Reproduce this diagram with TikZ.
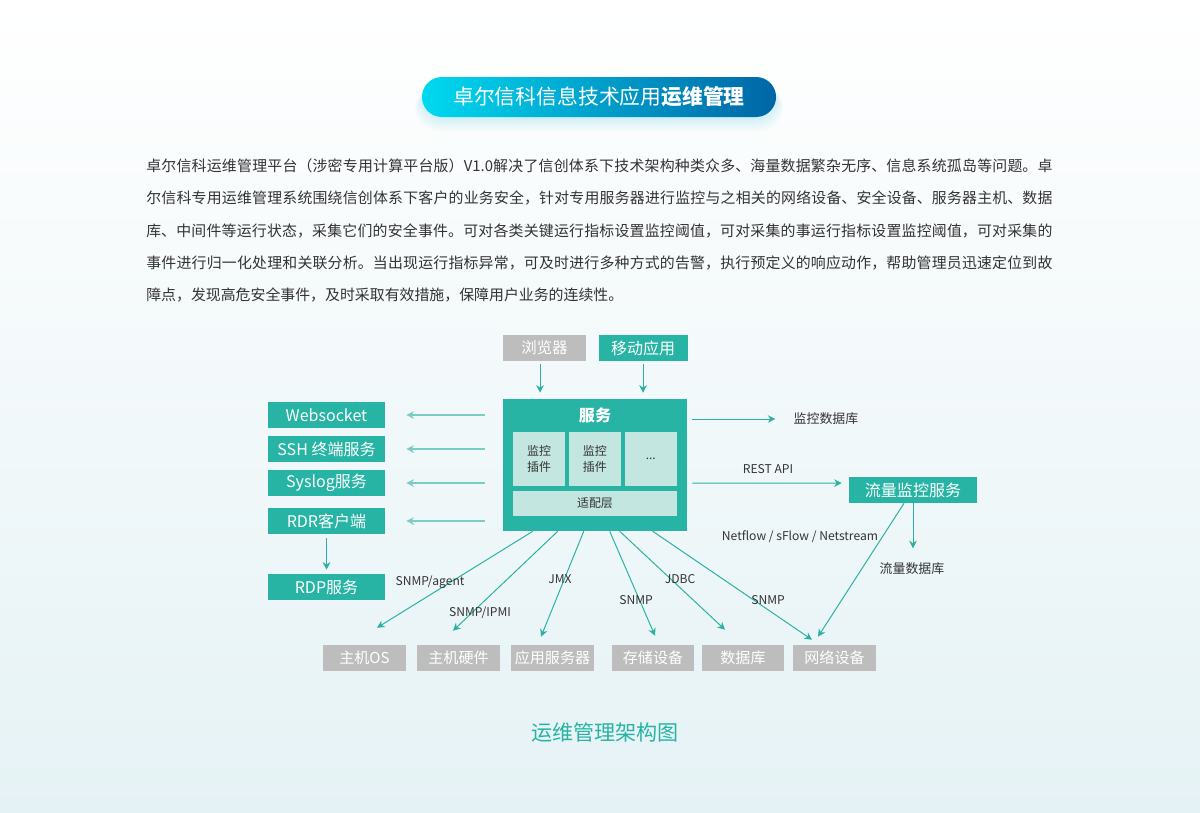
\documentclass[tikz,border=0pt]{standalone}
\usepackage{fontspec}
\setmainfont{Noto Sans CJK SC}
\usetikzlibrary{arrows.meta,positioning,calc}
\XeTeXlinebreaklocale "zh"
\XeTeXlinebreakskip=0pt plus 1pt
\definecolor{opsteal}{HTML}{27B4A4}
\definecolor{opslight}{HTML}{C3E6E0}
\definecolor{opsgray}{HTML}{BDBDBD}
\definecolor{arrowteal}{HTML}{2AB1A3}
\definecolor{arrowpale}{HTML}{7ACDC3}
\definecolor{bodytext}{HTML}{333333}
\definecolor{bannerleft}{HTML}{00D9F0}
\definecolor{bannerright}{HTML}{0066A6}
\definecolor{bgtint}{HTML}{E5F2F5}

\begin{document}
\begin{tikzpicture}[
  x=0.025cm, y=-0.025cm,
  tealbox/.style={fill=opsteal, text=white, inner sep=0pt, minimum height=6.5mm, font=\fontsize{11.4pt}{13pt}\selectfont},
  graybox/.style={fill=opsgray, text=white, inner sep=0pt, minimum height=6.5mm, minimum width=20.6mm, font=\fontsize{10.7pt}{12pt}\selectfont},
  plugbox/.style={fill=opslight, text=bodytext, inner sep=0pt, align=center, minimum width=13.1mm, minimum height=13.5mm, font=\fontsize{8.5pt}{11.4pt}\selectfont},
  lbl/.style={text=bodytext, inner sep=0pt, font=\fontsize{8.6pt}{10pt}\selectfont},
  arr/.style={-{Stealth[length=1.9mm, width=1.9mm]}, line width=0.7pt, draw=arrowteal},
  palearr/.style={arr, draw=arrowpale, line width=1pt}
]
% background and frame
\fill[top color=white, bottom color=bgtint] (0,0) rectangle (1200,812);
\useasboundingbox (0,0) rectangle (1200,812);

% title banner
\foreach \g in {2,4,...,14}
  \fill[bannerleft!60!bannerright, opacity=0.025, rounded corners=6mm] (422-\g/2,84) rectangle (776+\g/2,117+\g);
\node[rounded corners=5mm, left color=bannerleft, right color=bannerright, minimum width=88.5mm, minimum height=10mm,
  text=white, inner sep=0pt, font=\fontsize{14.8pt}{16pt}\selectfont] (banner) at (599,97) {卓尔信科信息技术应用\textbf{运维管理}};

% intro text
\node[anchor=north west, inner sep=0pt, text width=226.5mm, align=justify, text=bodytext,
  font={\fontsize{10.6pt}{23.1pt}\selectfont}] (intro) at (146,158) {卓尔信科运维管理平台（涉密专用计算平台版）V1.0解决了信创体系下技术架构种类众多、海量数据繁杂无序、信息系统孤岛等问题。卓\linebreak
尔信科专用运维管理系统围绕信创体系下客户的业务安全，针对专用服务器进行监控与之相关的网络设备、安全设备、服务器主机、数据\linebreak
库、中间件等运行状态，采集它们的安全事件。可对各类关键运行指标设置监控阈值，可对采集的事运行指标设置监控阈值，可对采集的\linebreak
事件进行归一化处理和关联分析。当出现运行指标异常，可及时进行多种方式的告警，执行预定义的响应动作，帮助管理员迅速定位到故\linebreak
障点，发现高危安全事件，及时采取有效措施，保障用户业务的连续性。};

% clients
\node[graybox, minimum width=20.75mm, font=\fontsize{11pt}{12pt}\selectfont] (browser) at (544.5,348) {浏览器};
\node[tealbox, minimum width=22.25mm, right=3mm of browser] (mobile) {移动应用};

% service block
\node[fill=opsteal, minimum width=46mm, minimum height=33mm, inner sep=0pt] (svc) at (595,465) {};
\node[text=white, inner sep=0pt, font=\bfseries\fontsize{11.4pt}{13pt}\selectfont] (svctitle) at (595,415) {服务};
\node[plugbox, minimum width=13mm] (plugA) at (539,459) {监控\\插件};
\node[plugbox, right=0.75mm of plugA] (plugB) {监控\\插件};
\node[plugbox, right=0.75mm of plugB] (plugC) {...};
\node[fill=opslight, text=bodytext, inner sep=0pt, minimum width=41mm, minimum height=6.25mm,
  font=\fontsize{8.5pt}{10pt}\selectfont] (adapter) at (595,503.5) {适配层};

% left side services
\node[tealbox, minimum width=29.25mm] (ws) at (326.5,415) {Websocket};
\node[tealbox, minimum width=29.25mm] (ssh) at (326.5,449) {SSH 终端服务};
\node[tealbox, minimum width=29.25mm] (syslog) at (326.5,483) {Syslog服务};
\node[tealbox, minimum width=29.25mm] (rdr) at (326.5,521) {RDR客户端};
\node[tealbox, minimum width=29.25mm] (rdp) at (326.5,587) {RDP服务};

% right side
\node[lbl, font=\fontsize{9.2pt}{10pt}\selectfont] (mondb) at (826,419) {监控数据库};
\node[tealbox, minimum width=32mm] (flow) at (913,490) {流量监控服务};
\node[lbl, font=\fontsize{9.2pt}{10pt}\selectfont] (flowdb) at (912,569) {流量数据库};

% monitored targets
\node[graybox] (os) at (364.5,658) {主机OS};
\node[graybox] (hw) at (458.5,658) {主机硬件};
\node[graybox] (app) at (552.5,658) {应用服务器};
\node[graybox] (stor) at (653,658) {存储设备};
\node[graybox] (db) at (743,658) {数据库};
\node[graybox] (net) at (834.5,658) {网络设备};

% connectors
\draw[arr, shorten <=0.75mm, shorten >=1.5mm] ([xshift=-1.1mm]browser.south) -- ([xshift=-1.1mm]browser.south |- svc.north);
\draw[arr, shorten <=0.75mm, shorten >=1.5mm] (mobile.south) -- (mobile.south |- svc.north);
\foreach \dst in {ws,ssh,syslog,rdr}
  \draw[palearr, shorten <=4.5mm, shorten >=5.25mm] (svc.west |- \dst.east) -- (\dst.east);
\draw[arr, shorten <=1mm, shorten >=1mm] (rdr.south) -- (rdp.north);
\draw[arr, shorten <=1.25mm, shorten >=4.5mm] (svc.east |- mondb.west) -- (mondb.west);
\draw[arr, shorten <=1.25mm, shorten >=1.75mm] (svc.east |- 0,483) -- node[lbl, above=2.2mm] (rest) {REST API} ([yshift=0.175cm]flow.west);
\draw[arr, shorten >=3.6mm] (flow.south) -- (flow.south |- flowdb.north);
\draw[arr] ([xshift=-2.25mm]flow.south) -- ([shift={(-16.5,-8)}]net.north);

\draw[arr] ([xshift=7.5mm]svc.south west) -- ([shift={(12.5,-17)}]os.north);
\draw[arr] ([xshift=13.75mm]svc.south west) -- ([shift={(-5.5,-14)}]hw.north);
\draw[arr] ([xshift=20.25mm]svc.south west) -- ([shift={(-11.5,-8)}]app.north);
\draw[arr] ([xshift=26.75mm]svc.south west) -- ([shift={(2,-9)}]stor.north);
\draw[arr] ([xshift=29.25mm]svc.south west) -- ([shift={(-18,-15)}]db.north);
\draw[arr] ([xshift=37.5mm]svc.south west) -- ([shift={(-22.5,-5)}]net.north);

% protocol labels
\node[lbl] (agent) at (430,582) {SNMP/agent};
\node[lbl] (ipmi) at (480,613) {SNMP/IPMI};
\node[lbl] (jmx) at (560,579) {JMX};
\node[lbl] (snmpA) at (636,600) {SNMP};
\node[lbl] (jdbc) at (680,579) {JDBC};
\node[lbl] (snmpB) at (768,600) {SNMP};
\node[lbl] (netflow) at (800,537) {Netflow / sFlow / Netstream};

% caption
\node[text=opsteal, inner sep=0pt, font=\fontsize{15pt}{17pt}\selectfont] (caption) at (605,732) {运维管理架构图};
\end{tikzpicture}
\end{document}
